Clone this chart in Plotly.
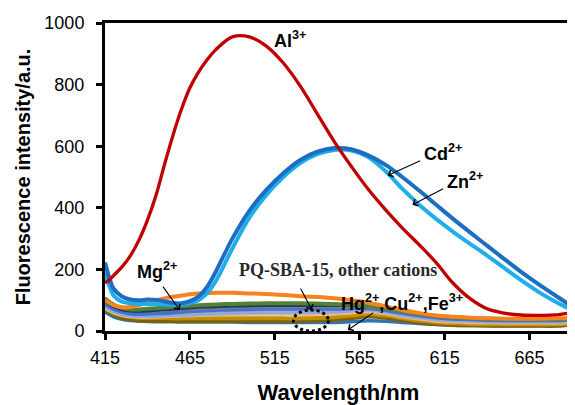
import plotly.graph_objects as go

WL = [415, 418, 420, 425, 430, 435, 440, 445, 450, 455, 460, 465, 470, 475, 480,
      490, 500, 510, 520, 530, 540, 550, 560, 570, 580, 590, 600, 610, 620, 630,
      640, 650, 660, 670, 680, 690]

AL3 = [156, 168, 180, 208, 245, 295, 360, 440, 540, 635, 720, 790, 840, 880, 912,
       955, 955, 925, 870, 795, 705, 615, 535, 460, 395, 335, 280, 222, 155, 105,
       72, 58, 52, 51, 52, 60]

CD2 = [222, 165, 138, 112, 102, 100, 102, 101, 96, 91, 90, 97, 112, 142, 190,
       300, 390, 458, 512, 555, 582, 594, 590, 570, 540, 500, 456, 410, 364, 320,
       277, 234, 192, 153, 116, 80]

ZN2 = [190, 140, 115, 95, 90, 88, 88, 87, 86, 85, 86, 90, 100, 122, 160,
       268, 368, 442, 500, 545, 574, 588, 586, 565, 520, 462, 410, 364, 322, 283,
       245, 205, 165, 128, 96, 68]

ORANGE = [100, 90, 84, 77, 78, 84, 93, 100, 106, 111, 115, 119, 122, 123, 124,
          124, 122, 120, 117, 113, 110, 106, 100, 92, 80, 68, 58, 50, 46, 43,
          41, 40, 40, 40, 41, 42]
GREEN = [105, 92, 85, 75, 70, 70, 72, 74, 76, 78, 80, 82, 84, 85, 86,
         88, 89, 90, 90, 90, 89, 88, 86, 82, 75, 65, 56, 49, 45, 42,
         40, 39, 38, 38, 38, 40]
GRAY = [108, 96, 88, 74, 68, 66, 66, 67, 68, 69, 70, 71, 72, 73, 74,
        76, 77, 78, 78, 78, 78, 78, 78, 77, 72, 62, 53, 46, 42, 40,
        39, 38, 38, 38, 38, 41]
NAVY = [95, 85, 78, 68, 64, 63, 64, 66, 68, 70, 72, 74, 76, 77, 78,
        80, 81, 82, 82, 82, 82, 82, 82, 80, 74, 64, 55, 48, 44, 42,
        41, 40, 40, 40, 40, 43]
BLUE = [88, 78, 72, 62, 57, 55, 56, 57, 58, 60, 62, 64, 66, 67, 68,
        70, 71, 72, 72, 72, 72, 72, 73, 74, 68, 58, 50, 44, 40, 38,
        36, 35, 35, 35, 35, 38]
STEEL = [80, 70, 64, 55, 50, 48, 48, 49, 50, 51, 52, 53, 55, 56, 57,
         59, 60, 61, 61, 61, 62, 63, 66, 70, 62, 52, 44, 38, 35, 33,
         31, 30, 30, 30, 30, 33]
PEACH = [72, 64, 58, 50, 46, 44, 44, 45, 46, 47, 48, 49, 50, 51, 52,
         53, 54, 54, 54, 54, 54, 55, 58, 62, 56, 46, 38, 32, 29, 27,
         26, 25, 25, 25, 25, 28]
GOLD = [75, 66, 60, 50, 45, 43, 42, 42, 42, 41, 41, 41, 41, 41, 41,
        41, 41, 41, 41, 41, 42, 45, 50, 55, 50, 42, 34, 28, 25, 23,
        22, 21, 21, 21, 21, 25]
OLIVE = [68, 58, 52, 42, 37, 34, 33, 32, 32, 32, 32, 32, 32, 32, 32,
         32, 32, 32, 32, 32, 33, 36, 41, 46, 42, 34, 27, 22, 19, 18,
         17, 16, 16, 16, 16, 20]
LOWBLUE = [62, 52, 46, 38, 34, 32, 31, 30, 30, 30, 29, 29, 29, 29, 29,
           29, 28, 28, 28, 28, 28, 28, 30, 33, 32, 28, 24, 21, 19, 18,
           17, 17, 17, 17, 17, 20]

XTICKS = [415, 465, 515, 565, 615, 665]
YTICKS = [0, 200, 400, 600, 800, 1000]

bundle = [
    (LOWBLUE, "#2E75B6", 3.5),
    (OLIVE, "#806000", 3.5),
    (GOLD, "#BF9000", 4),
    (PEACH, "#F4B183", 3),
    (STEEL, "#8FAADC", 4),
    (BLUE, "#4472C4", 4),
    (GRAY, "#7F7F7F", 2.5),
    (NAVY, "#203864", 2.5),
    (GREEN, "#548235", 4),
    (ORANGE, "#F7821E", 4),
]

fig = go.Figure()
for ys, col, w in bundle:
    fig.add_trace(go.Scatter(x=WL, y=ys, mode="lines", line=dict(color=col, width=w, shape="spline"),
                             showlegend=False, hoverinfo="skip"))
fig.add_trace(go.Scatter(x=WL, y=ZN2, mode="lines", line=dict(color="#1FAEEA", width=4, shape="spline"), showlegend=False))
fig.add_trace(go.Scatter(x=WL, y=CD2, mode="lines", line=dict(color="#1B6EC2", width=4, shape="spline"), showlegend=False))
fig.add_trace(go.Scatter(x=WL, y=AL3, mode="lines", line=dict(color="#C00000", width=3.3, shape="spline"), showlegend=False))

SANS = "Liberation Sans, Arial, sans-serif"
SERIF = "Liberation Serif, Times New Roman, serif"

anns = [
    dict(x=513.5, y=945, text="<b>Al<sup>3+</sup></b>", xanchor="left", yanchor="middle", showarrow=False,
         font=dict(family=SANS, size=18, color="black")),
    dict(x=601.5, y=581, text="<b>Cd<sup>2+</sup></b>", xanchor="left", yanchor="middle", showarrow=False,
         font=dict(family=SANS, size=18, color="black")),
    dict(x=615, y=490, text="<b>Zn<sup>2+</sup></b>", xanchor="left", yanchor="middle", showarrow=False,
         font=dict(family=SANS, size=18, color="black")),
    dict(x=432.5, y=198, text="<b>Mg<sup>2+</sup></b>", xanchor="left", yanchor="middle", showarrow=False,
         font=dict(family=SANS, size=18, color="black")),
    dict(x=492.5, y=198, text="<b>PQ-SBA-15, other cations</b>", xanchor="left", yanchor="middle", showarrow=False,
         font=dict(family=SERIF, size=18, color="#2a2a2a")),
    dict(x=553, y=91, text="<b>Hg<sup>2+</sup>,Cu<sup>2+</sup>,Fe<sup>3+</sup></b>", xanchor="left", yanchor="middle",
         showarrow=False, font=dict(family=SANS, size=18, color="black")),
]
arrows = [
    (581.5, 505, 601.5, 555),
    (596, 410, 615, 464),
    (459, 68, 448.5, 149),
    (536.8, 68, 529.7, 143),
    (558, 3, 573.8, 62),
]
for tx, ty, sx, sy in arrows:
    anns.append(dict(x=tx, y=ty, ax=sx, ay=sy, xref="x", yref="y", axref="x", ayref="y", text="",
                     showarrow=True, arrowhead=4, arrowsize=1.3, arrowwidth=1.1, arrowcolor="black"))

# page body has an 8px default margin, so the figure is drawn 8px smaller
fig.update_layout(
    width=567, height=397,
    margin=dict(l=97, r=3, t=15, b=74),
    paper_bgcolor="white", plot_bgcolor="white",
    annotations=anns,
    shapes=[dict(type="circle", xref="x", yref="y", x0=526, x1=546.5, y0=0, y1=68,
                 line=dict(color="black", width=3, dash="dot"))],
    font=dict(family=SANS, color="black"),
)
fig.update_xaxes(range=[415, 690], tickvals=XTICKS, ticktext=[str(v) for v in XTICKS],
                 showline=True, linecolor="black", linewidth=3, mirror=True,
                 ticks="outside", ticklen=6, tickwidth=3, tickcolor="black",
                 ticklabelstandoff=2, showgrid=False, zeroline=False, automargin=False,
                 tickfont=dict(family=SANS, size=18, color="black"),
                 title=dict(text="<b>Wavelength/nm</b>", font=dict(family=SANS, size=22, color="black"), standoff=24))
fig.update_yaxes(range=[0, 1000], tickvals=YTICKS, ticktext=[str(v) for v in YTICKS],
                 showline=True, linecolor="black", linewidth=3, mirror=True,
                 ticks="outside", ticklen=6, tickwidth=3, tickcolor="black",
                 ticklabelstandoff=8, showgrid=False, zeroline=False, automargin=False,
                 tickfont=dict(family=SANS, size=18, color="black"),
                 title=dict(text="<b>Fluorescence intensity/a.u.</b>", font=dict(family=SANS, size=20, color="black"), standoff=9))

fig.write_html("out.html")
